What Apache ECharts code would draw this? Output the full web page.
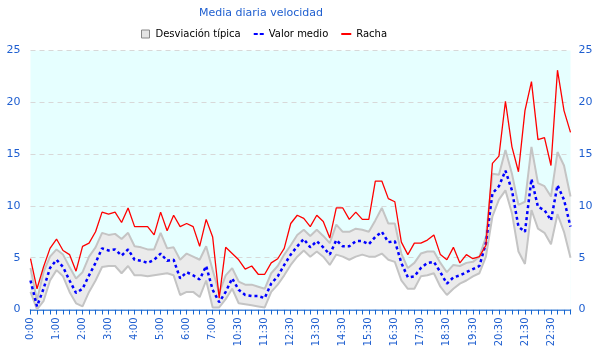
<!DOCTYPE html>
<html>
<head>
<meta charset="utf-8">
<script src="https://cdn.jsdelivr.net/npm/echarts@6/dist/echarts.min.js"></script>
<style>html,body{margin:0;padding:0;background:#fff}#c{width:600px;height:360px}</style>
</head>
<body>
<div id="c"></div>
<script>
var categories = [
 "0:00","0:15","0:30","0:45","1:00","1:15","1:30","1:45","2:00","2:15","2:30","2:45",
 "3:00","3:15","3:30","3:45","4:00","4:15","4:30","4:45","5:00","5:15","5:30","5:45",
 "6:00","6:15","6:30","6:45","7:00","7:15","7:30","7:45",
 "10:30","10:45","11:00","11:15","11:30","11:45","12:00","12:15","12:30","12:45",
 "13:00","13:15","13:30","13:45","14:00","14:15","14:30","14:45","15:00","15:15",
 "15:30","15:45","16:00","16:15","16:30","16:45","17:00","17:15","17:30","17:45",
 "18:00","18:15","18:30","18:45","19:00","19:15","19:30","19:45","20:00","20:15",
 "20:30","20:45","21:00","21:15","21:30","21:45","22:00","22:15","22:30","22:45",
 "23:00","23:15"
];
var racha = [
 4.9,2.0,4.1,5.9,6.8,5.7,5.3,3.7,6.1,6.4,7.5,9.4,9.2,9.4,8.4,9.8,8.0,8.0,8.0,7.2,
 9.4,7.6,9.1,8.0,8.3,8.0,6.1,8.7,7.0,1.1,6.0,5.4,4.8,3.9,4.2,3.4,3.4,4.5,4.9,5.9,
 8.3,9.1,8.8,8.0,9.1,8.5,6.9,9.8,9.8,8.7,9.4,8.7,8.7,12.4,12.4,10.7,10.4,6.5,5.3,6.4,
 6.4,6.7,7.2,5.3,4.8,6.0,4.5,5.3,4.9,5.1,6.2,14.1,14.8,20.1,15.7,13.3,19.2,22.0,16.4,16.6,
 13.9,23.1,19.2,17.1
];
var valorMedio = [
 2.8,0.3,2.0,4.0,4.8,4.1,2.8,1.6,2.0,3.3,4.5,5.9,5.7,5.8,5.2,5.8,4.8,4.7,4.5,4.8,
 5.4,4.7,4.8,3.0,3.6,3.3,2.9,4.2,1.9,0.7,1.7,3.0,1.9,1.4,1.3,1.3,1.1,2.5,3.2,4.3,
 5.3,6.1,6.8,6.0,6.6,6.0,5.3,6.7,6.1,6.1,6.6,6.6,6.3,7.0,7.5,6.5,6.6,4.5,3.1,3.2,
 4.0,4.5,4.6,3.6,2.5,3.1,3.3,3.6,3.9,4.2,6.4,11.2,11.9,13.4,11.5,8.0,7.5,12.6,9.9,9.6,
 8.6,12.0,10.6,8.0
];
var desvSup = [
 4.0,0.9,3.6,5.1,5.8,5.3,4.1,3.0,3.6,5.1,6.0,7.4,7.2,7.3,6.8,7.4,6.1,6.0,5.8,5.8,
 7.4,5.9,6.0,4.8,5.4,5.1,4.8,6.1,3.8,1.6,3.3,4.0,2.7,2.4,2.4,2.2,2.0,3.5,4.2,5.3,
 6.2,7.2,7.7,7.1,7.7,7.1,6.4,8.2,7.5,7.5,7.8,7.7,7.5,8.6,9.8,8.3,8.3,5.4,4.0,4.5,
 5.4,5.6,5.6,4.5,3.6,4.3,4.2,4.5,4.6,5.1,7.0,13.1,13.0,15.4,13.1,10.1,10.4,15.7,12.2,11.9,
 10.9,15.2,13.9,10.9
];
var desvInf = [
 1.7,0.0,0.8,2.8,3.8,3.2,1.7,0.6,0.3,1.7,2.8,4.1,4.2,4.2,3.5,4.2,3.3,3.3,3.2,3.3,
 3.4,3.5,3.3,1.4,1.7,1.7,1.2,2.8,0.2,0.2,1.0,2.0,0.6,0.5,0.4,0.3,0.2,1.7,2.4,3.3,
 4.3,5.1,5.7,5.1,5.6,5.1,4.3,5.3,5.1,4.8,5.1,5.3,5.1,5.1,5.4,4.8,4.6,2.8,2.0,2.0,
 3.2,3.3,3.5,2.2,1.4,2.0,2.5,2.8,3.2,3.5,5.1,9.0,10.6,11.5,9.3,5.6,4.4,9.6,7.8,7.4,
 6.3,9.2,7.5,5.0
];
var yTicks = [0, 5, 10, 15, 20, 25];

var bandWidth = desvSup.map(function (v, i) { return +(v - desvInf[i]).toFixed(2); });
var FONT = 'DejaVu Sans';
var BLUE_TXT = '#1f5fd0';

var chart = echarts.init(document.getElementById('c'), null, {renderer: 'canvas'});
function yAxis(pos) {
  return {
    type: 'value', position: pos, min: yTicks[0], max: yTicks[yTicks.length - 1], interval: 5,
    axisLine: {show: false}, axisTick: {show: false},
    axisLabel: {color: BLUE_TXT, fontFamily: FONT, fontSize: 11, margin: pos === 'left' ? 10 : 8},
    splitLine: {show: pos === 'left', lineStyle: {color: '#d8d8d8', type: [5, 4], width: 1}}
  };
}
chart.setOption({
  animation: false,
  backgroundColor: '#ffffff',
  title: {
    text: 'Media diaria velocidad', left: 256, top: 3, textAlign: 'center',
    textStyle: {color: BLUE_TXT, fontFamily: FONT, fontSize: 11, fontWeight: 'normal'}
  },
  legend: {
    left: 136, top: 24, itemGap: 13, itemWidth: 10, itemHeight: 8,
    textStyle: {color: '#000', fontFamily: FONT, fontSize: 10},
    data: [
      {name: 'Desviación típica', icon: 'path://M0,0H7V7H0Z', itemStyle: {color: '#e4e4e4', borderColor: '#888', borderWidth: 1}},
      {name: 'Valor medio', icon: 'path://M0,0H4V2H0ZM6,0H10V2H6Z', itemStyle: {color: '#0000ff', borderWidth: 0}},
      {name: 'Racha', icon: 'path://M0,0H10V2H0Z', itemStyle: {color: '#ff0000', borderWidth: 0}}
    ]
  },
  grid: {left: 30.5, right: 29.5, top: 50.5, bottom: 50.5, show: true, backgroundColor: '#e6ffff', borderWidth: 0},
  xAxis: {
    type: 'category', data: categories, boundaryGap: false,
    axisLine: {lineStyle: {color: '#1565d0', width: 1.5}},
    axisTick: {interval: 0, length: 5, lineStyle: {color: '#1565d0', width: 1}},
    axisLabel: {interval: 3, rotate: 90, color: BLUE_TXT, fontFamily: FONT, fontSize: 10, margin: 8},
    splitLine: {show: false}
  },
  yAxis: [yAxis('left'), yAxis('right')],
  series: [
    {
      name: '_inf', type: 'line', stack: 'desv', data: desvInf, symbol: 'none', silent: true,
      lineStyle: {color: '#c4c4c4', width: 2}, areaStyle: {color: '#ffffff', opacity: 1}, z: 2
    },
    {
      name: 'Desviación típica', type: 'line', stack: 'desv', data: bandWidth, symbol: 'none', silent: true,
      lineStyle: {color: '#c4c4c4', width: 2}, itemStyle: {color: '#e4e4e4'},
      areaStyle: {color: '#ebebeb', opacity: 1}, z: 2
    },
    {
      name: 'Valor medio', type: 'line', data: valorMedio, symbol: 'none',
      lineStyle: {color: '#0000ff', width: 2.5, type: [3, 3]}, itemStyle: {color: '#0000ff'}, z: 3
    },
    {
      name: 'Racha', type: 'line', data: racha, symbol: 'none',
      lineStyle: {color: '#ff0000', width: 1.3}, itemStyle: {color: '#ff0000'}, z: 4
    }
  ]
});
</script>
</body>
</html>
